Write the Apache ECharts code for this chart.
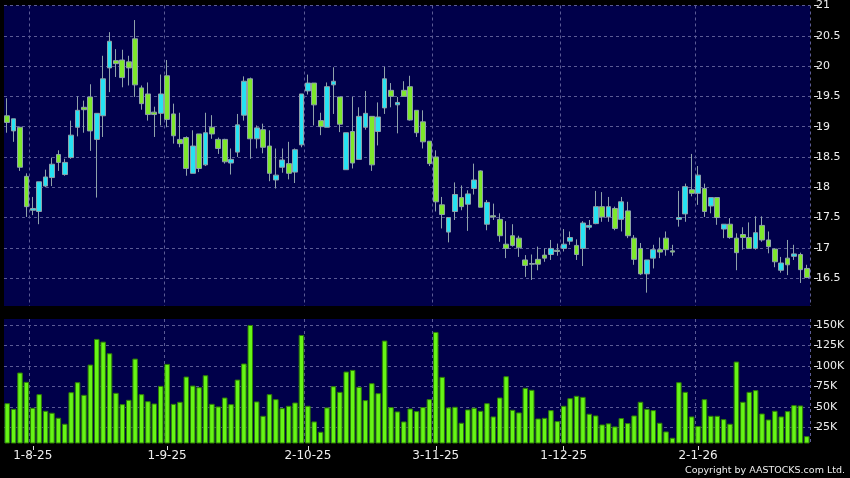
<!DOCTYPE html>
<html>
<head>
<meta charset="utf-8">
<script src="https://cdn.jsdelivr.net/npm/echarts@6/dist/echarts.min.js"></script>
<style>
  html, body { margin: 0; padding: 0; background: #000; }
  #chart { width: 850px; height: 478px; }
</style>
</head>
<body>
<div id="chart"></div>
<script>
  // trading days, d-m-yy
  const dates = [
    '28-7-25','29-7-25','30-7-25','31-7-25',
    '1-8-25','4-8-25','5-8-25','6-8-25','7-8-25','8-8-25','11-8-25','12-8-25','13-8-25','14-8-25','15-8-25',
    '18-8-25','19-8-25','20-8-25','21-8-25','22-8-25','25-8-25','26-8-25','27-8-25','28-8-25','29-8-25',
    '1-9-25','2-9-25','3-9-25','4-9-25','5-9-25','8-9-25','9-9-25','10-9-25','11-9-25','12-9-25','15-9-25',
    '16-9-25','17-9-25','18-9-25','19-9-25','22-9-25','23-9-25','24-9-25','25-9-25','26-9-25','29-9-25','30-9-25',
    '2-10-25','3-10-25','6-10-25','8-10-25','9-10-25','10-10-25','13-10-25','14-10-25','15-10-25','16-10-25',
    '17-10-25','20-10-25','21-10-25','22-10-25','23-10-25','24-10-25','27-10-25','28-10-25','30-10-25','31-10-25',
    '3-11-25','4-11-25','5-11-25','6-11-25','7-11-25','10-11-25','11-11-25','12-11-25','13-11-25','14-11-25',
    '17-11-25','18-11-25','19-11-25','20-11-25','21-11-25','24-11-25','25-11-25','26-11-25','27-11-25','28-11-25',
    '1-12-25','2-12-25','3-12-25','4-12-25','5-12-25','8-12-25','9-12-25','10-12-25','11-12-25','12-12-25',
    '15-12-25','16-12-25','17-12-25','18-12-25','19-12-25','22-12-25','23-12-25','24-12-25','29-12-25','30-12-25','31-12-25',
    '2-1-26','5-1-26','6-1-26','7-1-26','8-1-26','9-1-26','12-1-26','13-1-26','14-1-26','15-1-26','16-1-26',
    '19-1-26','20-1-26','21-1-26','22-1-26','23-1-26','26-1-26','27-1-26'
  ]

  const opens = [
    19.18,18.93,18.99,18.18,17.62,17.60,18.02,18.16,18.54,18.21,18.49,18.99,19.32,19.49,18.79,19.18,19.97,20.09,20.10,20.07,
    20.45,19.64,19.54,19.24,19.22,19.84,19.21,18.79,18.82,18.23,18.88,18.37,18.99,18.79,18.79,18.40,18.58,19.19,19.79,18.80,
    18.95,18.68,18.12,18.33,18.39,18.25,18.70,19.59,19.72,19.10,18.99,19.69,19.49,18.29,18.92,18.46,18.99,19.17,18.92,19.31,
    19.60,19.36,19.60,19.66,19.27,19.08,18.76,18.50,17.71,17.26,17.60,17.83,17.72,17.98,18.27,17.39,17.53,17.47,17.06,17.20,
    17.16,16.80,16.74,16.81,16.88,16.89,16.96,16.99,17.11,17.04,16.99,17.34,17.40,17.68,17.51,17.65,17.47,17.61,17.16,16.99,
    16.57,16.83,16.97,17.16,16.95,17.47,17.56,17.96,17.90,17.98,17.69,17.83,17.31,17.39,17.16,17.22,17.17,16.99,17.37,17.13,
    16.98,16.63,16.83,16.86,16.89,16.66
  ]
  const closes = [
    19.07,19.13,18.33,17.68,17.65,18.09,18.17,18.38,18.41,18.41,18.86,19.27,19.28,18.93,19.22,19.79,20.41,20.04,19.81,19.97,
    19.69,19.38,19.20,19.20,19.54,19.12,18.85,18.72,18.31,18.68,18.31,18.90,18.88,18.64,18.42,18.46,19.03,19.75,18.80,18.98,
    18.66,18.23,18.20,18.45,18.23,18.62,19.54,19.72,19.36,19.00,19.66,19.75,19.04,18.90,18.40,19.17,19.22,18.37,19.16,19.79,
    19.50,19.40,19.50,19.11,18.90,18.75,18.39,17.76,17.55,17.50,17.88,17.68,17.89,18.12,17.67,17.75,17.51,17.20,16.99,17.04,
    17.00,16.71,16.73,16.73,16.83,16.99,16.94,17.06,17.17,16.89,17.41,17.37,17.68,17.51,17.68,17.32,17.76,17.20,16.81,16.57,
    16.80,16.97,16.93,16.97,16.93,17.50,18.01,17.90,18.20,17.60,17.83,17.50,17.39,17.17,16.92,17.17,16.99,17.25,17.13,17.02,
    16.77,16.75,16.72,16.90,16.64,16.51
  ]
  const lows = [
    18.90,18.75,18.27,17.51,17.54,17.39,18.00,18.02,18.27,18.19,18.47,18.84,18.90,18.60,17.83,18.83,19.57,19.82,19.65,19.68,
    19.49,19.28,19.10,18.83,19.02,18.99,18.72,18.66,18.19,18.23,18.25,18.35,18.80,18.55,18.39,18.21,18.50,19.10,18.47,18.64,
    18.56,18.10,17.98,18.24,18.13,18.07,18.66,19.53,19.02,18.86,18.99,19.21,18.91,18.29,18.31,18.46,18.95,18.27,18.69,19.21,
    19.32,18.89,19.50,19.10,18.83,18.64,18.35,17.60,17.32,17.09,17.46,17.62,17.28,17.88,17.67,17.29,17.46,17.10,16.83,17.02,
    16.85,16.52,16.47,16.63,16.77,16.80,16.87,16.94,17.05,16.80,16.70,17.30,17.39,17.43,17.43,17.29,17.27,17.16,16.72,16.55,
    16.26,16.66,16.83,16.87,16.87,17.35,17.43,17.85,17.71,17.51,17.57,17.38,17.16,17.15,16.63,16.97,16.98,16.97,17.10,16.91,
    16.68,16.59,16.55,16.80,16.42,16.50
  ]
  const highs = [
    19.47,19.13,19.00,18.23,17.84,18.09,18.29,18.49,18.61,18.47,19.10,19.50,19.43,19.70,19.22,20.17,20.56,20.28,20.27,20.17,
    20.76,19.68,19.73,19.33,19.86,20.10,19.38,19.23,18.84,18.94,18.88,19.23,19.19,18.82,18.80,18.64,19.21,19.83,19.81,19.02,
    19.05,18.94,18.64,18.64,18.75,18.64,19.54,19.86,19.72,19.23,19.73,19.98,19.49,18.90,19.49,19.32,19.59,19.17,19.40,19.99,
    19.72,19.49,19.75,19.84,19.27,19.27,18.76,18.61,17.84,17.50,18.08,18.03,17.95,18.39,18.28,17.79,17.73,17.57,17.44,17.39,
    17.20,16.88,16.89,17.02,16.99,17.13,17.07,17.31,17.27,17.14,17.44,17.46,17.94,17.92,17.84,17.68,17.84,17.76,17.21,17.08,
    16.80,17.05,17.17,17.27,17.05,17.94,18.06,18.55,18.35,18.06,17.83,17.83,17.39,17.49,17.24,17.34,17.42,17.52,17.52,17.27,
    16.99,16.85,17.13,17.05,16.92,16.72
  ]
  // volume, thousands of shares
  const volumes = [
    54.6,47.7,92.0,80.6,49.0,65.6,45.3,42.9,36.8,29.5,68.0,80.2,64.8,101.7,133.0,129.7,115.5,67.2,53.4,58.7,
    109.0,65.6,57.0,54.2,75.7,102.5,53.8,56.3,87.1,76.1,74.1,88.7,53.8,50.6,61.5,53.4,83.4,103.0,150.0,56.7,
    39.2,65.6,59.5,48.5,51.4,55.4,137.8,51.4,32.3,19.7,49.4,75.3,68.4,93.2,95.2,74.5,58.3,79.0,66.8,131.0,
    49.8,44.5,32.3,48.1,44.9,49.8,59.5,141.5,86.7,49.4,50.2,30.7,46.9,49.0,45.3,54.6,38.4,61.5,87.5,46.5,
    43.3,73.3,70.9,35.9,36.7,46.1,32.7,51.4,60.7,63.6,62.3,41.7,39.6,28.6,30.0,26.2,36.4,30.3,39.6,56.3,
    47.7,46.1,30.7,20.1,12.4,80.2,68.4,38.4,26.7,59.5,39.2,39.2,35.1,29.5,105.4,56.3,68.4,70.5,42.0,34.7,
    45.3,38.4,44.9,52.2,51.8,14.4
  ]

  const dateLabels = ['1-8-25', '1-9-25', '2-10-25', '3-11-25', '1-12-25', '2-1-26']
  const priceTicks = [16.5, 17, 17.5, 18, 18.5, 19, 19.5, 20, 20.5, 21]
  const volumeTicks = [25, 50, 75, 100, 125, 150]

  const candles = dates.map((d, i) => [opens[i], closes[i], lows[i], highs[i]])
  const isLabel = (index, value) => dateLabels.indexOf(value) >= 0

  const gridLine = {
    show: true,
    lineStyle: { color: '#5b5b95', type: [3, 3], width: 1 }
  }
  const labelStyle = {
    color: '#eeeeee',
    fontFamily: 'DejaVu Sans',
    fontSize: 11
  }

  const chart = echarts.init(document.getElementById('chart'))
  chart.setOption({
    backgroundColor: '#000000',
    animation: false,
    grid: [
      { left: 4, right: 40, top: 5, height: 301, show: true, backgroundColor: '#00004a', borderWidth: 0 },
      { left: 4, right: 40, top: 319, height: 124, show: true, backgroundColor: '#00004a', borderWidth: 0 }
    ],
    xAxis: [
      {
        type: 'category', gridIndex: 0, data: dates, boundaryGap: true,
        axisLine: { show: false }, axisTick: { show: false }, axisLabel: { show: false },
        splitLine: Object.assign({ interval: isLabel }, gridLine)
      },
      {
        type: 'category', gridIndex: 1, data: dates, boundaryGap: true, offset: 3,
        axisLine: { show: false },
        axisTick: { show: true, interval: isLabel, alignWithLabel: true, length: 4, lineStyle: { color: '#dddddd' } },
        axisLabel: Object.assign({ interval: isLabel, margin: 4 }, labelStyle, { fontSize: 12 }),
        splitLine: Object.assign({ interval: isLabel }, gridLine)
      }
    ],
    yAxis: [
      {
        type: 'value', gridIndex: 0, position: 'right', offset: 4,
        min: 16.04, max: 21, scale: true,
        axisLine: { show: false },
        axisTick: { show: true, length: 4, customValues: priceTicks, lineStyle: { color: '#dddddd' } },
        axisLabel: Object.assign({ margin: 2, customValues: priceTicks }, labelStyle),
        splitLine: gridLine
      },
      {
        type: 'value', gridIndex: 1, position: 'right', offset: 4,
        min: 6, max: 157.3,
        axisLine: { show: false },
        axisTick: { show: true, length: 4, customValues: volumeTicks, lineStyle: { color: '#dddddd' } },
        axisLabel: Object.assign({ margin: 2, customValues: volumeTicks, formatter: v => v + 'K' }, labelStyle),
        splitLine: gridLine
      }
    ],
    series: [
      {
        type: 'candlestick', xAxisIndex: 0, yAxisIndex: 0,
        data: candles,
        barWidth: '82%',
        itemStyle: {
          color: '#26e2f2',
          color0: '#7ee82c',
          borderColor: '#8fa2aa',
          borderColor0: '#8fa2aa',
          borderColorDoji: '#9aa4aa',
          borderWidth: 1
        }
      },
      {
        type: 'bar', xAxisIndex: 1, yAxisIndex: 1,
        data: volumes,
        barWidth: '86%',
        itemStyle: { color: '#66f516', borderColor: '#2e7d06', borderWidth: 1 }
      }
    ],
    graphic: [
      {
        type: 'text', right: 5, top: 466,
        style: { text: 'Copyright by AASTOCKS.com Ltd.', fill: '#eeeeee', font: '9.5px "DejaVu Sans"' }
      }
    ]
  })
</script>
</body>
</html>
